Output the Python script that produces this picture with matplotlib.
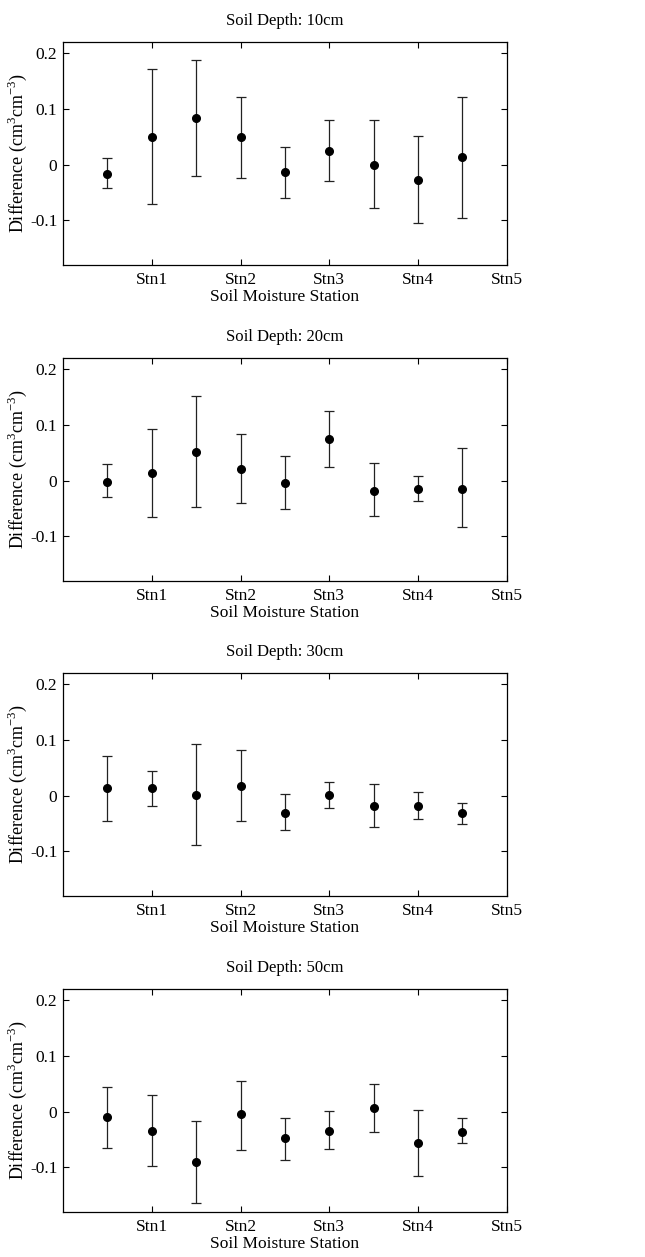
import numpy as np
import matplotlib
matplotlib.use('Agg')
import matplotlib.pyplot as plt

plt.rcParams['font.family'] = ['Liberation Serif', 'DejaVu Serif']
plt.rcParams['mathtext.fontset'] = 'custom'
plt.rcParams['mathtext.rm'] = 'Liberation Serif'

# x positions (between stations) and labels
x_pos = [0.5, 1.0, 1.5, 2.0, 2.5, 3.0, 3.5, 4.0, 4.5]
stations = ['Stn1', 'Stn2', 'Stn3', 'Stn4', 'Stn5']
depths = ['10cm', '20cm', '30cm', '50cm']

# mean difference, upper and lower whisker ends, per depth
mean_10 = [-0.016, 0.049, 0.083, 0.049, -0.014, 0.025, 0.000, -0.027, 0.013]
upper_10 = [0.012, 0.171, 0.187, 0.122, 0.031, 0.080, 0.080, 0.051, 0.122]
lower_10 = [-0.042, -0.071, -0.020, -0.024, -0.060, -0.029, -0.078, -0.104, -0.096]

mean_20 = [-0.002, 0.014, 0.052, 0.020, -0.004, 0.074, -0.018, -0.015, -0.015]
upper_20 = [0.029, 0.092, 0.152, 0.083, 0.044, 0.125, 0.031, 0.008, 0.058]
lower_20 = [-0.030, -0.065, -0.047, -0.041, -0.050, 0.024, -0.063, -0.036, -0.084]

mean_30 = [0.014, 0.014, 0.001, 0.017, -0.031, 0.001, -0.018, -0.018, -0.032]
upper_30 = [0.071, 0.044, 0.093, 0.082, 0.003, 0.025, 0.020, 0.006, -0.014]
lower_30 = [-0.045, -0.018, -0.089, -0.046, -0.062, -0.022, -0.056, -0.042, -0.051]

mean_50 = [-0.010, -0.034, -0.091, -0.005, -0.048, -0.034, 0.006, -0.057, -0.036]
upper_50 = [0.045, 0.030, -0.016, 0.055, -0.011, 0.001, 0.049, 0.003, -0.011]
lower_50 = [-0.066, -0.097, -0.164, -0.068, -0.086, -0.067, -0.036, -0.115, -0.057]

means = [mean_10, mean_20, mean_30, mean_50]
uppers = [upper_10, upper_20, upper_30, upper_50]
lowers = [lower_10, lower_20, lower_30, lower_50]

fig = plt.figure(figsize=(6.45, 12.57), dpi=100)
bottoms = [0.7892, 0.5378, 0.2872, 0.0358]

for i in range(4):
    ax = fig.add_axes([0.0977, bottoms[i], 0.688, 0.1774])
    m = np.array(means[i])
    err = [m - np.array(lowers[i]), np.array(uppers[i]) - m]
    ax.errorbar(x_pos, m, yerr=err, fmt='o', color='black', ecolor='#222222',
                markersize=5.5, elinewidth=0.9, capsize=3.5, capthick=0.9)
    ax.set_xlim(0, 5)
    ax.set_ylim(-0.18, 0.22)
    ax.set_xticks([1, 2, 3, 4, 5])
    ax.set_xticklabels(stations)
    ax.set_yticks([-0.1, 0, 0.1, 0.2])
    ax.set_yticklabels(['-0.1', '0', '0.1', '0.2'])
    ax.tick_params(direction='in', top=True, right=True, length=4, width=0.8,
                   labelsize=12.5, pad=4)
    ax.tick_params(axis='x', pad=5)
    for s in ax.spines.values():
        s.set_linewidth(0.9)
    ax.set_title('Soil Depth: ' + depths[i], fontsize=12, pad=12)
    ax.set_xlabel('Soil Moisture Station', fontsize=12.5, labelpad=1)
    ax.set_ylabel(r'Difference (cm$^{\mathregular{3}}$cm$^{\mathregular{-3}}$)',
                  fontsize=13, labelpad=1)

fig.savefig('out.png', dpi=100)
